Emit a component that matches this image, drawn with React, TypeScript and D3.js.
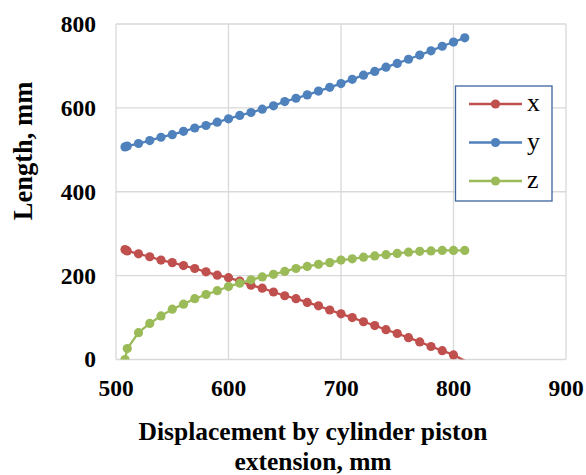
import React, { useEffect, useRef } from 'react';
import * as d3 from 'd3';

// displacement by cylinder piston extension, mm
const displacement = [508, 510, 520, 530, 540, 550, 560, 570, 580, 590, 600, 610, 620, 630, 640, 650, 660, 670, 680, 690, 700, 710, 720, 730, 740, 750, 760, 770, 780, 790, 800, 810];
const xValues = [262, 259, 252, 245, 237, 231, 224, 217, 209, 201, 195, 187, 177, 170, 161, 152, 145, 136, 128, 118, 109, 100, 90, 81, 71, 62, 52, 42, 31, 21, 11, -3];
const yValues = [507, 509, 515, 522, 530, 536, 544, 552, 558, 566, 574, 582, 589, 597, 605, 615, 623, 631, 640, 649, 658, 668, 678, 687, 697, 706, 716, 726, 736, 747, 757, 767];
const zValues = [0, 26, 64, 86, 104, 120, 132, 145, 155, 164, 174, 182, 190, 197, 203, 210, 217, 222, 227, 231, 237, 240, 244, 247, 250, 253, 256, 258, 259, 260, 260, 260];

const seriesNames = ['x', 'y', 'z'];
const seriesColors = ['#c0504d', '#4f81bd', '#9bbb59'];
const xTicks = [500, 600, 700, 800, 900];
const yTicks = [0, 200, 400, 600, 800];
const xTitleLines = ['Displacement by cylinder piston', 'extension, mm'];

const App = () => {
  const chartRef = useRef<SVGSVGElement>(null);

  useEffect(() => {
    drawChart();
  }, []);

  const drawChart = () => {
    const svg = d3.select(chartRef.current);
    svg.selectAll('*').remove();

    const left = 116, right = 566, top = 24, bottom = 359.5;
    const font = '"Liberation Serif", "Times New Roman", serif';

    const x = d3.scaleLinear().domain([500, 900]).range([left, right]);
    const y = d3.scaleLinear().domain([0, 800]).range([bottom, top]);

    // grid
    svg.append('g')
      .selectAll('line.v')
      .data(xTicks)
      .enter()
      .append('line')
      .attr('x1', d => x(d)).attr('x2', d => x(d))
      .attr('y1', top).attr('y2', bottom)
      .attr('stroke', '#d9d9d9').attr('stroke-width', 1.3);
    svg.append('g')
      .selectAll('line.h')
      .data(yTicks)
      .enter()
      .append('line')
      .attr('x1', left).attr('x2', right)
      .attr('y1', d => y(d)).attr('y2', d => y(d))
      .attr('stroke', '#d9d9d9').attr('stroke-width', 1.3);

    // tick labels
    svg.append('g')
      .selectAll('text')
      .data(xTicks)
      .enter()
      .append('text')
      .attr('x', d => x(d))
      .attr('y', 396)
      .attr('text-anchor', 'middle')
      .attr('font-family', font).attr('font-weight', 'bold').attr('font-size', 23.5)
      .text(d => d);
    svg.append('g')
      .selectAll('text')
      .data(yTicks)
      .enter()
      .append('text')
      .attr('x', 96)
      .attr('y', d => y(d))
      .attr('dy', '0.34em')
      .attr('text-anchor', 'end')
      .attr('font-family', font).attr('font-weight', 'bold').attr('font-size', 23.5)
      .text(d => d);

    // axis titles, two separate lines
    svg.append('g')
      .selectAll('text')
      .data(xTitleLines)
      .enter()
      .append('text')
      .attr('x', 313)
      .attr('y', (d, i) => 440 + i * 30)
      .attr('text-anchor', 'middle')
      .attr('font-family', font).attr('font-weight', 'bold').attr('font-size', 25.5)
      .text(d => d);

    svg.append('text')
      .attr('transform', 'translate(32,151) rotate(-90)')
      .attr('text-anchor', 'middle')
      .attr('font-family', font).attr('font-weight', 'bold').attr('font-size', 26.5)
      .text('Length, mm');

    // series
    const allSeries = [xValues, yValues, zValues];
    const line = d3.line<number>()
      .x((d, i) => x(displacement[i]))
      .y(d => y(d));

    svg.append('defs').append('clipPath').attr('id', 'plot')
      .append('rect')
      .attr('x', left).attr('y', top - 6)
      .attr('width', right - left).attr('height', bottom - top + 6);

    const plot = svg.append('g').attr('clip-path', 'url(#plot)');
    allSeries.forEach((vals, s) => {
      plot.append('path')
        .datum(vals)
        .attr('fill', 'none')
        .attr('stroke', seriesColors[s])
        .attr('stroke-width', 2.3)
        .attr('d', line);
      plot.selectAll(`circle.s${s}`)
        .data(vals.map((v, i) => ({ v, i })).filter(d => d.v >= 0))
        .enter()
        .append('circle')
        .attr('cx', d => x(displacement[d.i]))
        .attr('cy', d => y(d.v))
        .attr('r', 4.6)
        .attr('fill', seriesColors[s]);
    });

    // legend
    const lg = svg.append('g');
    lg.append('rect')
      .attr('x', 455.5).attr('y', 86)
      .attr('width', 96.5).attr('height', 115)
      .attr('fill', 'white')
      .attr('stroke', '#3b649c').attr('stroke-width', 1.3);
    seriesNames.forEach((name, i) => {
      const cy = 104 + i * 38.5;
      lg.append('line')
        .attr('x1', 469).attr('x2', 522)
        .attr('y1', cy).attr('y2', cy)
        .attr('stroke', seriesColors[i]).attr('stroke-width', 2.3);
      lg.append('circle')
        .attr('cx', 495.5).attr('cy', cy).attr('r', 4.6)
        .attr('fill', seriesColors[i]);
      lg.append('text')
        .attr('x', 527).attr('y', cy + 7)
        .attr('font-family', font).attr('font-size', 26)
        .text(name);
    });
  };

  return (
    <svg ref={chartRef} width={586} height={475} style={{ position: 'absolute', left: 0, top: 0 }}></svg>
  );
};

export default App;
